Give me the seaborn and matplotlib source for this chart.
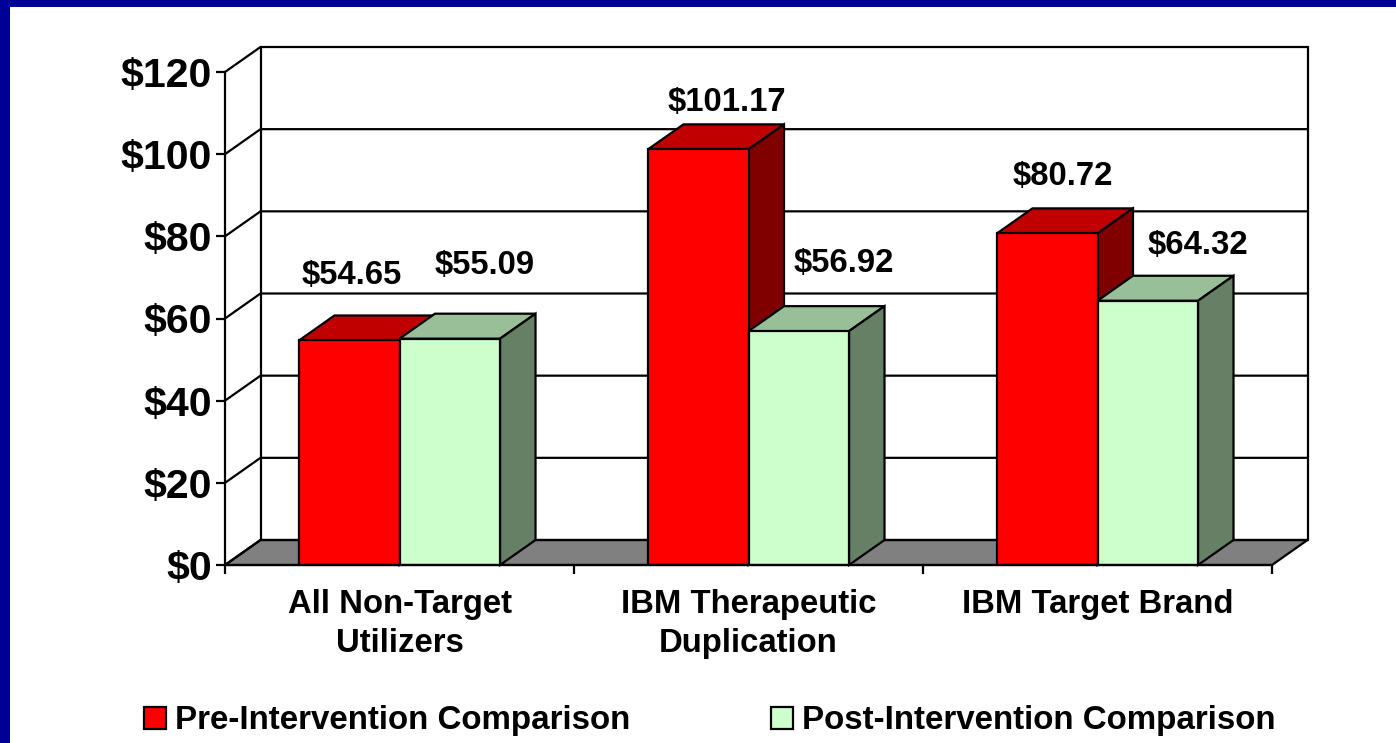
import matplotlib
matplotlib.use("Agg")
import matplotlib.pyplot as plt
from matplotlib.patches import Polygon, Rectangle
import pandas as pd
import seaborn as sns

# Chart values
categories = ["All Non-Target\nUtilizers", "IBM Therapeutic\nDuplication", "IBM Target Brand"]
series_names = ["Pre-Intervention Comparison", "Post-Intervention Comparison"]
pre_values = [54.65, 101.17, 80.72]
post_values = [55.09, 56.92, 64.32]
y_ticks = [0, 20, 40, 60, 80, 100, 120]

# Colours: front, top, side of each bar
red_faces = ("#FF0000", "#C00000", "#800000")
green_faces = ("#CCFFCC", "#99BF99", "#668066")
frame_blue = "#000099"
floor_grey = "#808080"

W, H = 1396, 743
LW = 1.6

# Label offsets from the centre of the bar top, in pixels (pre then post)
pre_label_px = [(2, 65), (29, 47), (16, 57)]
post_label_px = [(35, 73), (45, 68), (50, 55)]

df = pd.DataFrame({
    "Category": categories * 2,
    "Series": [series_names[0]] * 3 + [series_names[1]] * 3,
    "Value": pre_values + post_values,
})

sns.set_theme(style="white")
plt.rcParams["font.family"] = ["Liberation Sans", "DejaVu Sans"]
plt.rcParams["font.weight"] = "bold"
plt.rcParams["text.color"] = "black"

fig = plt.figure(figsize=(W / 100, H / 100), dpi=100, facecolor=frame_blue)
fig.add_artist(Rectangle((10 / W, 0), 1 - 10 / W, 1 - 7 / H, transform=fig.transFigure,
                         facecolor="white", edgecolor="none", zorder=-5))

ax = fig.add_axes([225 / W, (H - 565) / H, 1047 / W, 493 / H])
ax.patch.set_alpha(0)

sns.barplot(data=df, x="Category", y="Value", hue="Series", hue_order=series_names,
            palette=[red_faces[0], green_faces[0]], width=0.576, gap=0, saturation=1,
            edgecolor="black", linewidth=LW, ax=ax)

ax.set_xlim(-0.5, 2.5)
ax.set_ylim(0, 120)
ax.set_xlabel("")
ax.set_ylabel("")

# Depth of the fake 3D box in data units
dx = 35.5 / (1047 / 3)
dy = 25 / (493 / 120)

# Back wall, floor and gridlines
floor = Polygon([(-0.5, 0), (-0.5 + dx, dy), (2.5 + dx, dy), (2.5, 0)], closed=True,
                facecolor=floor_grey, edgecolor="black", linewidth=LW, clip_on=False, zorder=1)
ax.add_patch(floor)
for y in y_ticks:
    ax.plot([-0.5, -0.5 + dx, 2.5 + dx], [y, y + dy, y + dy], color="black", lw=LW,
            clip_on=False, zorder=1.5, solid_capstyle="projecting")
ax.plot([-0.5 + dx, -0.5 + dx], [dy, 120 + dy], color="black", lw=LW, clip_on=False, zorder=1.5)
ax.plot([2.5 + dx, 2.5 + dx], [dy, 120 + dy], color="black", lw=LW, clip_on=False, zorder=1.5)

# Top and side faces for each bar, red series first so green sits in front
z = 3
for bars, faces in zip(ax.containers, [red_faces, green_faces]):
    for bar in bars:
        x0, x1 = bar.get_x(), bar.get_x() + bar.get_width()
        top = bar.get_height()
        ax.add_patch(Polygon([(x0, top), (x0 + dx, top + dy), (x1 + dx, top + dy), (x1, top)],
                             closed=True, facecolor=faces[1], edgecolor="black", linewidth=LW,
                             clip_on=False, zorder=z))
        ax.add_patch(Polygon([(x1, 0), (x1 + dx, dy), (x1 + dx, top + dy), (x1, top)],
                             closed=True, facecolor=faces[2], edgecolor="black", linewidth=LW,
                             clip_on=False, zorder=z))
        bar.set_zorder(z + 0.5)
    z += 1

# Value labels
for bars, values, offsets in zip(ax.containers, [pre_values, post_values], [pre_label_px, post_label_px]):
    for bar, v, (ox, oy) in zip(bars, values, offsets):
        ax.annotate(f"${v:.2f}", (bar.get_x() + bar.get_width() / 2, v),
                    xytext=(ox * 0.72, oy * 0.72), textcoords="offset points",
                    ha="center", va="center", fontsize=23.7, fontweight="bold",
                    color="black", zorder=10, annotation_clip=False)

# Axes, ticks, labels
sns.despine(ax=ax)
for side in ["left", "bottom"]:
    ax.spines[side].set_linewidth(LW)
    ax.spines[side].set_color("black")
    ax.spines[side].set_zorder(8)

ax.set_yticks(y_ticks)
ax.set_yticklabels([f"${y}" for y in y_ticks], fontsize=29.5, fontweight="bold", color="black")
ax.tick_params(axis="y", left=True, length=6.5, width=LW, pad=3, color="black")

ax.set_xticks([0, 1, 2])
ax.set_xticklabels(categories, fontsize=23.7, fontweight="bold", color="black", linespacing=1.36)
ax.set_xticks([-0.5, 0.5, 1.5, 2.5], minor=True)
ax.tick_params(axis="x", which="major", length=0, pad=17)
ax.tick_params(axis="x", which="minor", bottom=True, length=6.5, width=LW, color="black")

sns.move_legend(ax, "center left", bbox_to_anchor=(144 / W, (H - 721) / H),
                bbox_transform=fig.transFigure, ncol=2, title=None, frameon=False,
                fontsize=23.9, handlelength=0.66, handleheight=0.66, handletextpad=0.27,
                columnspacing=4.24, borderpad=0, borderaxespad=0, labelcolor="black")
for handle in ax.get_legend().legend_handles:
    handle.set_edgecolor("black")
    handle.set_linewidth(LW)

fig.savefig("out.png", dpi=100, facecolor=fig.get_facecolor())
